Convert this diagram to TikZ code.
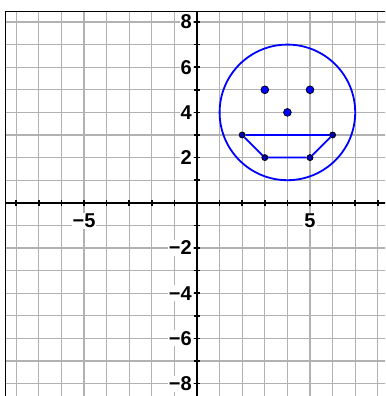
\documentclass[tikz,border=0pt]{standalone}
\usepackage{fontspec}
\setmainfont{Liberation Sans}
\definecolor{gridc}{RGB}{178,178,178}
\definecolor{ptblue}{RGB}{0,0,255}
\tikzset{
  gridline/.style={draw=gridc, line width=1.3pt},
  frameline/.style={draw=black, line width=1.3pt},
  axisline/.style={draw=black, line width=2pt},
  tickmark/.style={draw=black, line width=1.5pt},
  lbl/.style={font=\fontsize{20}{24}\selectfont\bfseries, fill=white, inner sep=1pt},
  faceline/.style={draw=ptblue, line width=1.8pt},
  mouthtop/.style={draw=ptblue, line width=2.6pt},
  mouthside/.style={draw=ptblue, line width=1.8pt},
  bigdot/.style={circle, fill=ptblue, draw=black, line width=0.7pt, inner sep=0pt, minimum size=7.8pt},
  smalldot/.style={circle, fill=ptblue!70!black, draw=black, line width=0.8pt, inner sep=0pt, minimum size=6pt},
}
\begin{document}
\begin{tikzpicture}[x=22.6pt,y=22.6pt]
\useasboundingbox (-8.717,-8.549) rectangle (8.319,8.973);
\clip (-8.717,-8.549) rectangle (8.319,8.973);
% grid
\foreach \i in {-8,...,8} {
  \draw[gridline] (\i,-8.7) -- (\i,8.46);
  \draw[gridline] (-8.46,\i) -- (8.5,\i);
}
% frame (left and top)
\draw[frameline] (-8.46,-8.7) -- (-8.46,8.46) -- (8.5,8.46);
% axes
\draw[axisline] (-8.46,0) -- (8.5,0);
\draw[axisline] (0,-8.7) -- (0,8.46);
% ticks
\foreach \i in {-8,...,-1,1,2,...,8} {
  \draw[tickmark] (\i,-0.14) -- (\i,0.14);
  \draw[tickmark] (-0.14,\i) -- (0.14,\i);
}
% labels
\node[lbl, anchor=north] (xm5) at (-5,-0.44) {−5};
\node[lbl, anchor=north] (xp5) at (5,-0.44) {5};
\node[lbl, anchor=east] (y8) at (-0.18,8) {8};
\node[lbl, anchor=east] (y6) at (-0.18,6) {6};
\node[lbl, anchor=east] (y4) at (-0.18,4) {4};
\node[lbl, anchor=east] (y2) at (-0.18,2) {2};
\node[lbl, anchor=east] (ym2) at (-0.18,-2) {−2};
\node[lbl, anchor=east] (ym4) at (-0.18,-4) {−4};
\node[lbl, anchor=east] (ym6) at (-0.18,-6) {−6};
\node[lbl, anchor=east] (ym8) at (-0.18,-8) {−8};
% face
\node[faceline, circle, inner sep=0pt, minimum size=135.6pt] (face) at (4,4) {};
% mouth points
\node[smalldot] (A) at (2,3) {};
\node[smalldot] (B) at (6,3) {};
\node[smalldot] (C) at (3,2) {};
\node[smalldot] (D) at (5,2) {};
\draw[mouthtop] (A) -- (B);
\draw[mouthside] (A) -- (C) -- (D) -- (B);
% eyes and nose
\node[bigdot] (E1) at (3,5) {};
\node[bigdot] (E2) at (5,5) {};
\node[bigdot] (N) at (4,4) {};
\end{tikzpicture}
\end{document}
